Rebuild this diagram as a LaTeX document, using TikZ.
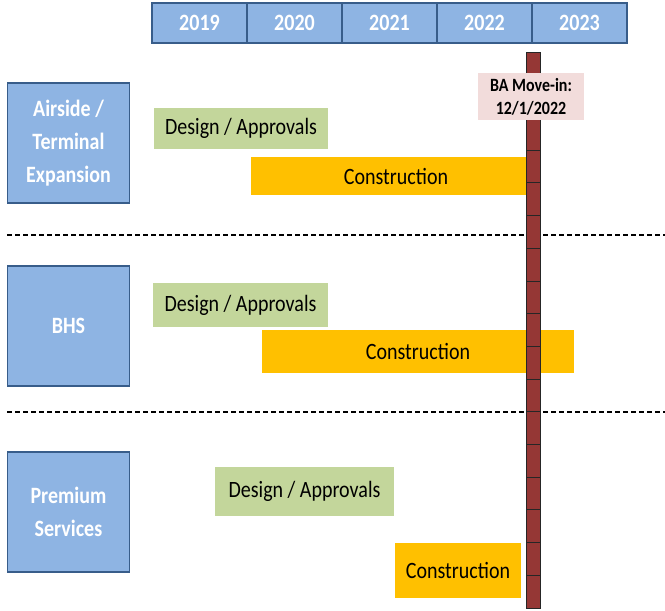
\documentclass[tikz,border=0pt]{standalone}
\usepackage{fontspec}
\setmainfont{Carlito}[FakeStretch=0.855]
\usepackage{tikz}
\usetikzlibrary{positioning}
\definecolor{hdrblue}{HTML}{8EB4E3}
\definecolor{hdrline}{HTML}{385D8A}
\definecolor{designgreen}{HTML}{C3D69B}
\definecolor{buildorange}{HTML}{FFC000}
\definecolor{movered}{HTML}{953735}
\definecolor{notepink}{HTML}{F2DCDB}

\begin{document}
\begin{tikzpicture}[
    x=1pt, y=-1pt,
    year/.style={rectangle, draw=hdrline, fill=hdrblue, line width=1.5pt, outer sep=0pt, inner sep=0pt, minimum width=95pt, minimum height=40pt, text=white, font=\bfseries\fontsize{23.4}{26}\selectfont},
    project/.style={rectangle, draw=hdrline, fill=hdrblue, line width=1.5pt, minimum width=122pt, minimum height=120pt, align=center, text=white, font=\bfseries\fontsize{23.4}{33}\selectfont},
    design/.style={rectangle, fill=designgreen, inner sep=0pt, font=\fontsize{23.4}{26}\selectfont},
    build/.style={rectangle, fill=buildorange, inner sep=0pt, font=\fontsize{23.4}{26}\selectfont},
    movein/.style={rectangle, fill=notepink, inner sep=0pt, minimum width=106pt, minimum height=47pt, align=center, font=\bfseries\fontsize{18.7}{23}\selectfont},
    divider/.style={dash pattern=on 5pt off 3pt, line width=1.3pt}
]
\useasboundingbox (0,0) rectangle (665,611);

% Year header
\node[year] (y2019) at (199.5,23) {2019};
\node[year, right=0pt of y2019] (y2020) {2020};
\node[year, right=0pt of y2020] (y2021) {2021};
\node[year, right=0pt of y2021] (y2022) {2022};
\node[year, right=0pt of y2022] (y2023) {2023};

% Projects
\node[project] (airside) at (68.5,143) {Airside /\\Terminal\\Expansion};
\node[project] (bhs) at (68.5,326) {BHS};
\node[project] (premium) at (68.5,512) {Premium\\Services};

% Phases
\node[design, minimum width=174pt, minimum height=41pt] (d1) at (241,128.5) {Design / Approvals};
\node[build, minimum width=290pt, minimum height=38pt] (c1) at (396,176) {Construction};
\node[design, minimum width=175pt, minimum height=44pt] (d2) at (240.5,305) {Design / Approvals};
\node[build, minimum width=312pt, minimum height=43pt] (c2) at (418,351.5) {Construction};
\node[design, minimum width=179pt, minimum height=49pt] (d3) at (304.5,491.5) {Design / Approvals};
\node[build, minimum width=126pt, minimum height=55pt] (c3) at (458,570.5) {Construction};

% Dividers
\draw[divider] (7,235) -- (665,235);
\draw[divider] (7,412) -- (665,412);

% Move-in marker
\draw[fill=movered, draw=black!85, line width=0.8pt] (526,52) rectangle (540,608);
\foreach \k in {1,...,16}
    \draw[black!85, line width=0.8pt] (526,52+32.7*\k) -- (540,52+32.7*\k);
\node[movein] (ba) at (531,96.5) {BA Move-in:\\12/1/2022};

\end{tikzpicture}
\end{document}
